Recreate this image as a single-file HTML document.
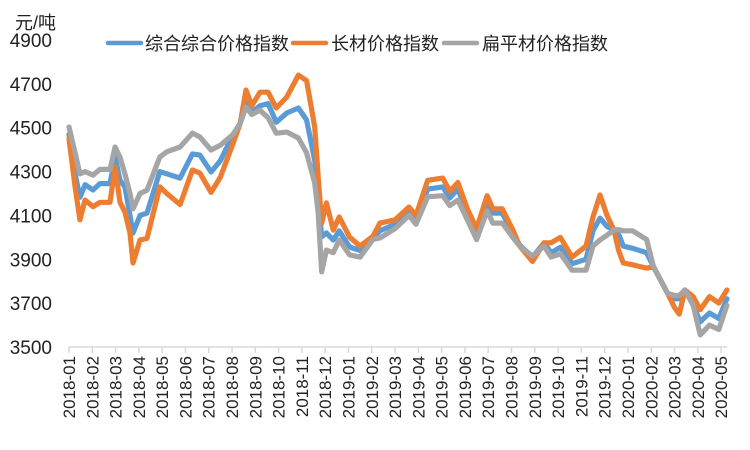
<!DOCTYPE html>
<html><head><meta charset="utf-8"><style>
body{margin:0;background:#fff}
svg{display:block;font-family:"Liberation Sans","Noto Sans CJK SC",sans-serif}
</style></head><body>
<svg id="c" width="750" height="450">
<text x="15" y="29" font-size="18" fill="#222">元/吨</text>
<g id="yt"></g>
<g id="xt"></g>
<g id="lines"></g>
<g>
<g><line x1="108" y1="43" x2="141" y2="43" stroke="#5b9bd5" stroke-width="4.5" stroke-linecap="round"/><text x="145" y="50" font-size="18" fill="#222">综合综合价格指数</text></g>
<g><line x1="293" y1="43" x2="326" y2="43" stroke="#ed7d31" stroke-width="4.5" stroke-linecap="round"/><text x="331" y="50" font-size="18" fill="#222">长材价格指数</text></g>
<g><line x1="444" y1="43" x2="477" y2="43" stroke="#a5a5a5" stroke-width="4.5" stroke-linecap="round"/><text x="482" y="50" font-size="18" fill="#222">扁平材价格指数</text></g>
</g>
</svg>
<script>
const monthLabels=["2018-01","2018-02","2018-03","2018-04","2018-05","2018-06","2018-07","2018-08","2018-09","2018-10","2018-11","2018-12","2019-01","2019-02","2019-03","2019-04","2019-05","2019-06","2019-07","2019-08","2019-09","2019-10","2019-11","2019-12","2020-01","2020-02","2020-03","2020-04","2020-05"];
const yTicks=[3500,3700,3900,4100,4300,4500,4700,4900];
const xIdx=[0,0.26,0.47,0.69,1.03,1.33,1.76,1.98,2.19,2.4,2.62,2.75,3.05,3.35,3.9,4.2,4.77,5.3,5.62,6.1,6.5,7.05,7.35,7.6,7.85,8.2,8.55,8.9,9.35,9.85,10.2,10.55,10.7,10.85,11.05,11.35,11.6,12.05,12.5,13.05,13.35,14.0,14.6,14.9,15.4,16.05,16.35,16.7,17.1,17.5,17.95,18.2,18.6,19.06,19.35,19.9,20.4,20.7,21.1,21.6,22.2,22.5,22.8,23.1,23.4,23.6,23.8,24.2,24.8,25.1,25.4,25.7,26.0,26.2,26.45,26.8,27.1,27.5,27.9,28.25];
const compositeVals=[4470,4290,4183,4240,4216,4245,4245,4366,4260,4230,4100,4020,4100,4110,4300,4290,4270,4380,4375,4298,4350,4470,4520,4612,4570,4600,4610,4525,4567,4590,4535,4352,4170,4003,4020,3988,4030,3956,3940,3995,4030,4060,4120,4080,4220,4230,4180,4220,4110,4020,4160,4110,4110,4020,3965,3910,3975,3930,3955,3880,3900,4030,4088,4050,4033,4015,3960,3950,3930,3865,3805,3745,3720,3720,3760,3690,3615,3655,3630,3720];
const longVals=[4450,4230,4080,4170,4140,4160,4160,4320,4160,4115,4020,3883,3988,3995,4230,4200,4150,4307,4293,4205,4275,4430,4520,4672,4600,4662,4662,4590,4640,4740,4715,4503,4275,4065,4157,4033,4093,4001,3960,4005,4065,4080,4138,4100,4260,4270,4210,4250,4130,4040,4190,4130,4130,4033,3960,3890,3975,3975,4000,3910,3960,4093,4193,4100,4033,3940,3883,3875,3860,3865,3805,3745,3680,3650,3760,3730,3670,3730,3700,3760];
const flatVals=[4503,4385,4290,4300,4284,4310,4310,4412,4366,4290,4200,4130,4200,4215,4366,4390,4412,4475,4458,4398,4420,4470,4520,4594,4560,4580,4545,4475,4480,4453,4385,4248,4110,3843,3942,3930,3988,3920,3910,3990,3997,4040,4100,4060,4185,4190,4145,4170,4080,3990,4120,4065,4065,4000,3960,3915,3960,3910,3925,3850,3850,3960,3988,4010,4033,4035,4030,4030,3990,3865,3805,3745,3735,3735,3760,3690,3555,3600,3580,3690];
const NS="http://www.w3.org/2000/svg";
const X=i=>69+i*23.29;
const Y=v=>347-(v-3500)*0.2193;
function mk(t,a,p){const e=document.createElementNS(NS,t);for(const k in a)e.setAttribute(k,a[k]);p.appendChild(e);return e;}
const yt=document.getElementById('yt');
yTicks.forEach(v=>{const t=mk('text',{x:52,y:Y(v)+7,'text-anchor':'end','font-size':19,fill:'#222'},yt);


t.textContent=v;});
const xt=document.getElementById('xt');
const ax=mk('line',{x1:69,y1:347,x2:727,y2:347,stroke:'#d9d9d9','stroke-width':1.5},xt);


monthLabels.forEach((m,i)=>{const x=X(i);
const tk=mk('line',{x1:x,y1:347,x2:x,y2:353,stroke:'#d9d9d9','stroke-width':1.5},xt);


const t=mk('text',{x:0,y:0,'text-anchor':'end','font-size':17,fill:'#222',transform:`translate(${x+6},356) rotate(-90)`},xt);


t.textContent=m;});
const lg=document.getElementById('lines');
[[compositeVals,'#5b9bd5','line-composite'],[longVals,'#ed7d31','line-long'],[flatVals,'#a5a5a5','line-flat']].forEach(([vals,c,n])=>{
const d=vals.map((v,i)=>(i?'L':'M')+X(xIdx[i]).toFixed(1)+','+Y(v).toFixed(1)).join('');
const p=mk('path',{d:d,fill:'none',stroke:c,'stroke-width':5.2,'stroke-linejoin':'round','stroke-linecap':'round'},lg);

});
</script>
</body></html>
